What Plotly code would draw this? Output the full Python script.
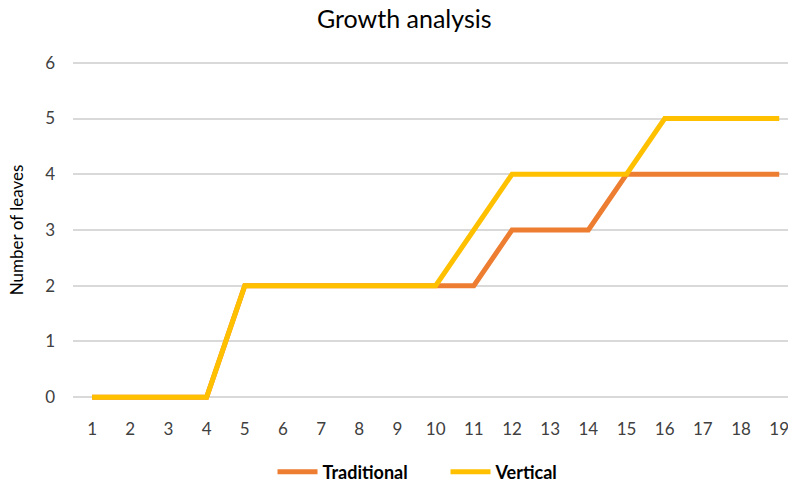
import plotly.graph_objects as go

days = [str(d) for d in range(1, 20)]
traditional = [0, 0, 0, 0, 2, 2, 2, 2, 2, 2, 2, 3, 3, 3, 4, 4, 4, 4, 4]
vertical = [0, 0, 0, 0, 2, 2, 2, 2, 2, 2, 3, 4, 4, 4, 4, 5, 5, 5, 5]
y_ticks = [0, 1, 2, 3, 4, 5, 6]

FONT = "Lato, 'Open Sans', sans-serif"
W, H = 788, 484

fig = go.Figure()
fig.add_trace(go.Scatter(x=days, y=traditional, name="Traditional", mode="lines",
                         line=dict(color="#ED7D31", width=5)))
fig.add_trace(go.Scatter(x=days, y=vertical, name="Vertical", mode="lines",
                         line=dict(color="#FFC000", width=5)))

fig.update_layout(
    width=W, height=H,
    margin=dict(l=73, r=0, t=60, b=84, autoexpand=False),
    paper_bgcolor="white", plot_bgcolor="white",
    font=dict(family=FONT, color="#404040", size=17),
    title=dict(text="Growth analysis", x=0.513, xanchor="center", y=0.96, yanchor="middle",
               font=dict(family=FONT, size=25, color="#000000")),
    legend=dict(orientation="h", x=0.521, xanchor="center", y=-0.212, yanchor="middle",
                font=dict(family=FONT, size=18, color="#000000", weight="bold"),
                itemwidth=40, entrywidth=118, entrywidthmode="pixels"),
    showlegend=True,
)
fig.update_xaxes(type="category", range=[-0.5, 18.23], showgrid=False, zeroline=False,
                 showline=False, ticks="", ticklabelstandoff=17,
                 tickfont=dict(size=17, color="#404040"))
fig.update_yaxes(range=[-0.05, 6.05], tickvals=y_ticks, showgrid=True, gridcolor="#D9D9D9",
                 gridwidth=1.5, zeroline=False, showline=False, ticks="", ticklabelstandoff=17,
                 tickfont=dict(size=17, color="#404040"),
                 title=dict(text="Number of leaves", standoff=17,
                            font=dict(family=FONT, size=17, color="#000000")))

fig.write_html("out.html")
